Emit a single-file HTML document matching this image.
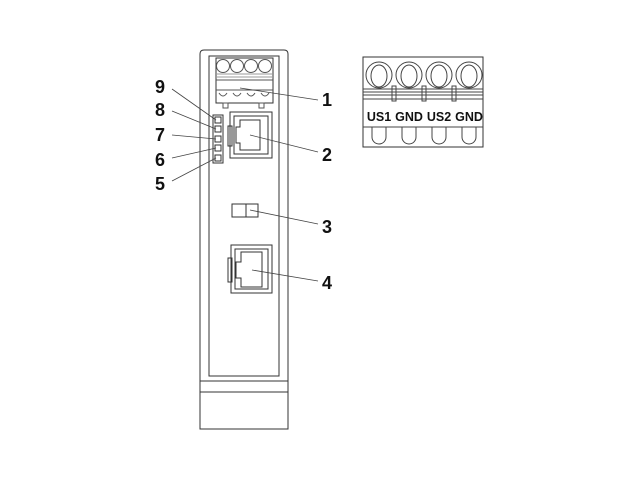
<!DOCTYPE html>
<html><head><meta charset="utf-8"><style>
html,body{margin:0;padding:0;background:#fff;}
svg{display:block}
text{font-family:"Liberation Sans",Arial,sans-serif;font-weight:bold;fill:#111}
</style></head><body>
<svg width="640" height="480" viewBox="0 0 640 480" xmlns="http://www.w3.org/2000/svg">
<g fill="none" stroke="#333" stroke-width="1">
<path d="M200,429 V54 Q200,50 204,50 H284 Q288,50 288,54 V429 Z"/>
<rect x="209" y="56" width="70" height="320"/>
<line x1="200" y1="381" x2="288" y2="381"/>
<line x1="200" y1="392" x2="288" y2="392"/>
<rect x="216" y="58" width="57" height="45"/>
<g stroke="#555">
<circle cx="223" cy="66" r="6.5"/><circle cx="237" cy="66" r="6.5"/><circle cx="251" cy="66" r="6.5"/><circle cx="265" cy="66" r="6.5"/>
<line x1="216" y1="74" x2="273" y2="74" stroke="#999"/><line x1="216" y1="77" x2="273" y2="77" stroke="#999"/>
<line x1="216" y1="80" x2="273" y2="80"/>
<line x1="216" y1="90" x2="273" y2="90"/>
<path d="M219,93 q4,6 8,0 M233,93 q4,6 8,0 M247,93 q4,6 8,0 M261,93 q4,6 8,0"/>
<rect x="223" y="103" width="5" height="5"/><rect x="259" y="103" width="5" height="5"/>
</g>
<rect x="230" y="112" width="42" height="46"/>
<rect x="234" y="116" width="34" height="38"/>
<path d="M240,120 H260 V150 H240 V143 H236 V127 H240 Z"/>
<rect x="228" y="126" width="4" height="20"/>
<rect x="213" y="115" width="10" height="48"/>
<rect x="215" y="117" width="6" height="6"/><rect x="215" y="126" width="6" height="6"/><rect x="215" y="136" width="6" height="6"/><rect x="215" y="145" width="6" height="6"/><rect x="215" y="155" width="6" height="6"/>
<rect x="232" y="204" width="26" height="13"/>
<line x1="246" y1="204" x2="246" y2="217"/>
<rect x="231" y="245" width="41" height="48"/>
<rect x="235" y="249" width="33" height="40"/>
<path d="M241,252 H262 V287 H241 V278 H236 V262 H241 Z"/>
<rect x="228" y="258" width="4" height="24"/>
<g stroke="#444" stroke-width="0.8">
<line x1="240" y1="88" x2="318" y2="100"/>
<line x1="250" y1="135" x2="318" y2="152"/>
<line x1="250" y1="210" x2="318" y2="224"/>
<line x1="252" y1="270" x2="318" y2="281"/>
<line x1="172" y1="89" x2="216" y2="120"/>
<line x1="172" y1="111" x2="216" y2="129"/>
<line x1="172" y1="135" x2="216" y2="139"/>
<line x1="172" y1="158" x2="216" y2="148"/>
<line x1="172" y1="181" x2="216" y2="158"/>
</g>
<rect x="363" y="57" width="120" height="90"/>
<g stroke="#444">
<circle cx="379" cy="75" r="13"/><circle cx="409" cy="75" r="13"/><circle cx="439" cy="75" r="13"/><circle cx="469" cy="75" r="13"/>
<ellipse cx="379" cy="76" rx="8" ry="11"/><ellipse cx="409" cy="76" rx="8" ry="11"/><ellipse cx="439" cy="76" rx="8" ry="11"/><ellipse cx="469" cy="76" rx="8" ry="11"/>
<line x1="363" y1="89" x2="483" y2="89"/><line x1="363" y1="92" x2="483" y2="92"/><line x1="363" y1="95" x2="483" y2="95"/><line x1="363" y1="99" x2="483" y2="99"/>
<rect x="392" y="86" width="4" height="15"/><rect x="422" y="86" width="4" height="15"/><rect x="452" y="86" width="4" height="15"/>
<line x1="363" y1="127" x2="483" y2="127"/>
<path d="M372,127 V137 a7,7 0 0 0 14,0 V127 M402,127 V137 a7,7 0 0 0 14,0 V127 M432,127 V137 a7,7 0 0 0 14,0 V127 M462,127 V137 a7,7 0 0 0 14,0 V127"/>
</g>
</g>
<text x="379" y="121" font-size="12.5" text-anchor="middle">US1</text>
<text x="409" y="121" font-size="12.5" text-anchor="middle">GND</text>
<text x="439" y="121" font-size="12.5" text-anchor="middle">US2</text>
<text x="469" y="121" font-size="12.5" text-anchor="middle">GND</text>
<g font-size="18" text-anchor="middle">
<text x="327" y="106">1</text>
<text x="327" y="161">2</text>
<text x="327" y="233">3</text>
<text x="327" y="289">4</text>
<text x="160" y="93">9</text>
<text x="160" y="116">8</text>
<text x="160" y="141">7</text>
<text x="160" y="166">6</text>
<text x="160" y="190">5</text>
</g>
</svg>
</body></html>
